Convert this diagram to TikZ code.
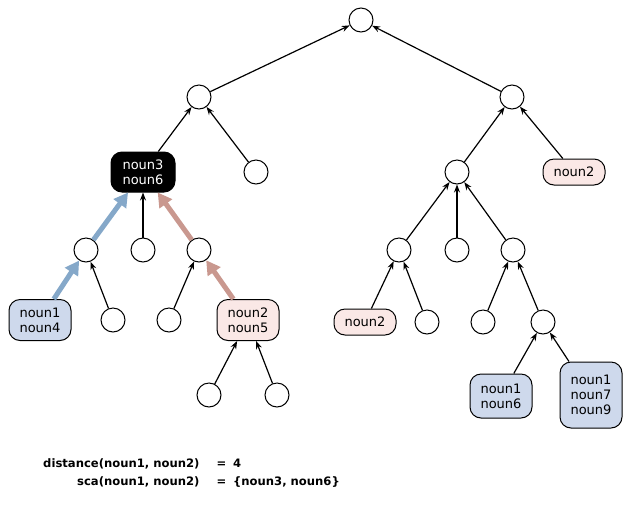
\documentclass[tikz,border=0pt]{standalone}
\usepackage{fontspec}
\setmainfont{DejaVu Sans}
\usepackage{tikz}
\usetikzlibrary{arrows.meta}

\definecolor{boxblue}{RGB}{206,217,236}
\definecolor{boxpink}{RGB}{250,232,230}
\definecolor{arrblue}{RGB}{133,168,201}
\definecolor{arrpink}{RGB}{201,152,143}

\begin{document}
\begin{tikzpicture}[
  x=1pt, y=-1pt,
  font=\fontsize{13}{15}\selectfont,
  nd/.style={draw, circle, minimum size=24pt, inner sep=0pt, line width=1pt},
  wbox/.style={draw, rounded corners=11pt, minimum width=62pt, inner sep=2pt, align=center, line width=1pt},
  bluebox/.style={wbox, fill=boxblue},
  pinkbox/.style={wbox, fill=boxpink},
  scabox/.style={wbox, fill=black, text=white, minimum width=64pt, minimum height=40pt},
  arr/.style={-{Stealth[length=8pt,width=6pt]}, line width=1.2pt},
  parr/.style={-{Triangle[length=14pt,width=15pt]}, line width=5pt},
  res/.style={font=\fontsize{11.6}{14}\selectfont\bfseries}
]
\useasboundingbox (0,0) rectangle (634,523);
% --- left subtree ---
\node[nd] (root) at (361,20) {};
\node[nd] (a) at (199,97) {};
\node[scabox] (a1) at (143,172) {noun3\\noun6};
\node[nd] (a2) at (256,172) {};
\node[nd] (a11) at (86,250) {};
\node[nd] (a12) at (143,250) {};
\node[nd] (a13) at (199,250) {};
\node[bluebox, minimum height=41pt] (a111) at (40,320) {noun1\\noun4};
\node[nd] (a112) at (113,320) {};
\node[nd] (a131) at (169,320) {};
\node[pinkbox, minimum height=41pt] (a132) at (248,320) {noun2\\noun5};
\node[nd] (a1321) at (209,395) {};
\node[nd] (a1322) at (277,395) {};
% --- right subtree ---
\node[nd] (b) at (512,97) {};
\node[nd] (b1) at (457,172) {};
\node[pinkbox, minimum height=26pt] (b2) at (574,172) {noun2};
\node[nd] (b11) at (399,250) {};
\node[nd] (b12) at (457,250) {};
\node[nd] (b13) at (513,250) {};
\node[pinkbox, minimum height=26pt] (b111) at (365,322) {noun2};
\node[nd] (b112) at (427,322) {};
\node[nd] (b131) at (483,322) {};
\node[nd] (b132) at (543,322) {};
\node[bluebox, minimum height=44pt] (b1321) at (501,396) {noun1\\noun6};
\node[bluebox, minimum height=66pt] (b1322) at (591,395) {noun1\\noun7\\noun9};
% --- edges ---
\foreach \c/\p in {a/root, b/root, a1/a, a2/a, a12/a1, a112/a11, a131/a13,
                   a1321/a132, a1322/a132, b1/b, b2/b, b11/b1, b12/b1, b13/b1,
                   b111/b11, b112/b11, b131/b13, b132/b13, b1321/b132, b1322/b132}
  \draw[arr] (\c) -- (\p);
% --- paths to the sca ---
\draw[parr, arrblue] (a111) -- (a11);
\draw[parr, arrblue] (a11) -- (a1);
\draw[parr, arrpink] (a132) -- (a13);
\draw[parr, arrpink] (a13) -- (a1);
% --- result ---
\node[res, anchor=mid east] (dist) at (203,465) {distance(noun1, noun2)};
\node[res] (eq1) at (221.5,465) {=};
\node[res, anchor=mid west, inner sep=0pt] (dval) at (233,465) {4};
\node[res, anchor=mid east] (sca) at (203,483) {sca(noun1, noun2)};
\node[res] (eq2) at (221.5,483) {=};
\node[res, anchor=mid west, inner sep=0pt] (sval) at (233,483) {\{noun3, noun6\}};
\end{tikzpicture}
\end{document}
